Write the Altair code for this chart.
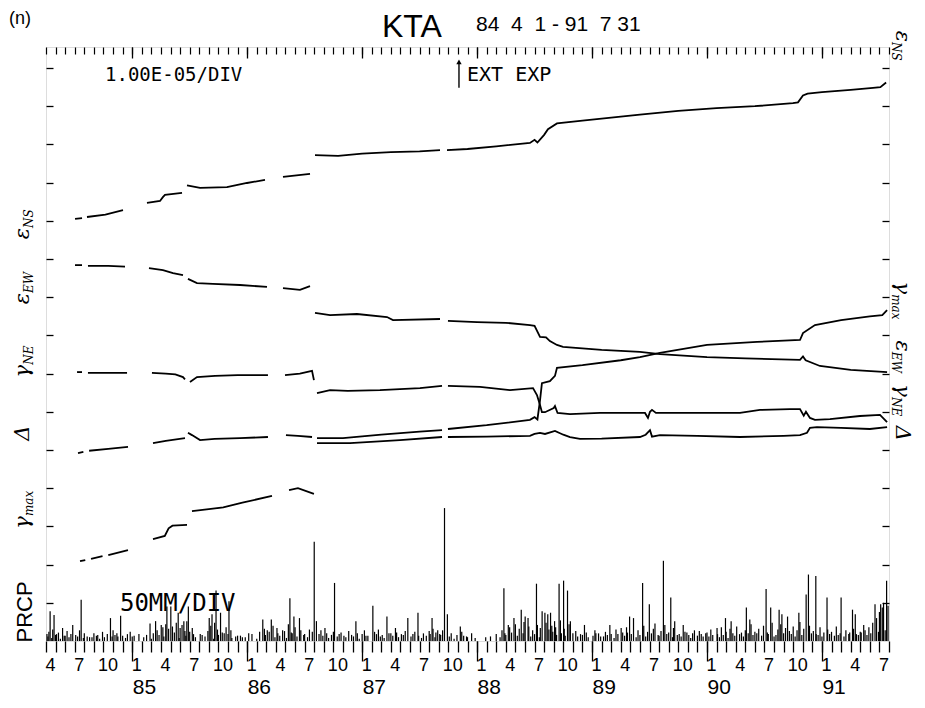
import altair as alt
import pandas as pd

FONT = "Liberation Sans"
ANN_FONT = "DejaVu Sans Mono"

# ---------------- axes (x: months since 1984-04-01, y: divisions) ----------------
MONTH_TICKS = list(range(0, 89))
YEAR_TICKS = [9, 21, 33, 45, 57, 69, 81]
DIV_TICKS = list(range(1, 16))

# ---------------- strain traces (month, divisions; 1 div = 1.00E-05) ----------------
ENS = [
    [(3.03, 11.05), (3.76, 11.07)],
    [(4.28, 11.10), (6.2, 11.16), (8.04, 11.28)],
    [(10.54, 11.47), (11.9, 11.52), (12.2, 11.62), (12.42, 11.68), (14.2, 11.73)],
    [(14.72, 11.93), (16.08, 11.86), (18.89, 11.88), (20.98, 11.99), (22.86, 12.07)],
    [(24.74, 12.15), (27.56, 12.23)],
    [(28.08, 12.72), (30.5, 12.70), (33.0, 12.76), (36.0, 12.80), (39.0, 12.82), (41.13, 12.85)],
    [(41.86, 12.85), (44.0, 12.88), (47.0, 12.95), (50.52, 13.04), (51.0, 13.12), (51.3, 13.05),
     (52.0, 13.25), (52.4, 13.40), (53.34, 13.55), (56.0, 13.62), (59.0, 13.70), (62.0, 13.78),
     (66.0, 13.88), (70.0, 13.95), (74.0, 14.00), (77.97, 14.08), (78.5, 14.10), (79.02, 14.28),
     (79.5, 14.33), (81.0, 14.37), (84.0, 14.43), (86.33, 14.48), (87.1, 14.50), (87.7, 14.62)],
]
EEW = [
    [(3.03, 9.84), (3.76, 9.84)],
    [(4.38, 9.82), (6.5, 9.82), (8.25, 9.80)],
    [(10.75, 9.76), (12.21, 9.71), (13.26, 9.63), (14.3, 9.58)],
    [(14.82, 9.48), (15.76, 9.37), (17.43, 9.35), (20.25, 9.32), (23.07, 9.27)],
    [(24.74, 9.24), (26.51, 9.19), (27.56, 9.29)],
    [(28.08, 8.59), (29.65, 8.53), (32.46, 8.56), (35.6, 8.48), (36.22, 8.40), (41.13, 8.43)],
    [(41.96, 8.38), (45.0, 8.35), (48.0, 8.33), (50.52, 8.27), (51.0, 8.25), (51.57, 7.96),
     (52.2, 7.95), (52.6, 7.85), (53.34, 7.75), (53.97, 7.70), (58.0, 7.62), (62.0, 7.57),
     (64.09, 7.51), (69.0, 7.43), (73.0, 7.40), (78.71, 7.36), (79.02, 7.45), (79.3, 7.35),
     (80.79, 7.20), (84.0, 7.10), (87.8, 7.04)],
]
GNE = [
    [(3.24, 7.04), (3.76, 7.04)],
    [(4.38, 7.02), (6.5, 7.02), (8.46, 7.02)],
    [(11.06, 7.02), (12.5, 7.00), (13.5, 6.98), (14.3, 6.91), (14.51, 6.85)],
    [(15.03, 6.78), (15.76, 6.91), (17.64, 6.94), (20.0, 6.96), (23.17, 6.96)],
    [(24.95, 6.96), (26.5, 7.00), (27.77, 7.07), (27.97, 6.83)],
    [(28.29, 6.49), (29.65, 6.57), (31.5, 6.55), (34.86, 6.57), (39.04, 6.62), (41.34, 6.68)],
    [(41.96, 6.68), (45.3, 6.65), (48.43, 6.57), (50.84, 6.62), (51.25, 6.44), (51.57, 6.18),
     (51.77, 5.99), (52.09, 5.99), (53.0, 6.10), (53.13, 6.15), (53.4, 5.97), (54.7, 5.94),
     (57.83, 5.97), (62.53, 5.97), (62.84, 5.84), (63.05, 6.00), (63.26, 6.05), (63.67, 5.97),
     (68.27, 5.97), (72.44, 5.97), (74.53, 6.05), (77.66, 6.07), (78.71, 6.07), (79.1, 5.90),
     (79.33, 6.00), (79.75, 5.84), (80.27, 5.79), (81.84, 5.81), (84.97, 5.89), (87.06, 5.92),
     (87.8, 5.73)],
]
DELTA = [
    [(3.34, 4.92), (3.9, 4.95)],
    [(4.5, 4.98), (6.5, 5.03), (8.56, 5.08)],
    [(11.17, 5.18), (12.5, 5.24), (14.51, 5.31)],
    [(14.82, 5.45), (15.24, 5.39), (16.08, 5.26), (17.6, 5.29), (20.25, 5.31), (23.17, 5.34)],
    [(25.05, 5.39), (26.3, 5.37), (27.77, 5.34)],
    [(28.29, 5.18), (31.73, 5.18), (36.95, 5.26), (41.34, 5.34)],
    [(41.96, 5.34), (46.0, 5.35), (50.52, 5.37), (51.0, 5.42), (51.57, 5.45), (52.09, 5.42),
     (53.13, 5.50), (54.0, 5.40), (54.7, 5.34), (55.74, 5.29), (58.0, 5.30), (62.0, 5.34),
     (62.6, 5.40), (63.05, 5.52), (63.26, 5.35), (64.09, 5.39), (68.0, 5.37), (72.44, 5.34),
     (77.0, 5.37), (78.71, 5.39), (79.44, 5.45), (79.75, 5.58), (80.48, 5.60), (83.0, 5.58),
     (86.0, 5.55), (87.8, 5.60)],
]
GMAX = [
    [(3.55, 2.09), (4.1, 2.12)],
    [(4.7, 2.15), (5.9, 2.22)],
    [(6.5, 2.25), (8.56, 2.38)],
    [(11.17, 2.67), (12.4, 2.75), (12.8, 2.95), (13.2, 3.02), (14.72, 3.04)],
    [(15.24, 3.40), (17.0, 3.45), (18.5, 3.50), (20.5, 3.62), (23.59, 3.80)],
    [(25.37, 3.95), (26.3, 4.00), (27.97, 3.85)],
    [(28.29, 5.31), (31.0, 5.31), (35.0, 5.40), (39.0, 5.48), (41.34, 5.52)],
    [(41.96, 5.55), (46.0, 5.65), (50.52, 5.79), (51.0, 5.86), (51.3, 5.80), (51.57, 6.30),
     (51.77, 6.75), (52.6, 6.80), (53.13, 6.94), (53.34, 7.15), (56.0, 7.22), (60.0, 7.35),
     (62.0, 7.43), (64.09, 7.54), (69.0, 7.75), (74.22, 7.83), (78.71, 7.88), (79.02, 8.06),
     (80.27, 8.27), (83.0, 8.40), (86.0, 8.50), (87.3, 8.53), (87.8, 8.66)],
]

# ---------------- precipitation (month, mm; 50 mm per division) ----------------
PRCP_BIG = [
    (0.43, 39), (0.84, 34), (1.73, 17), (2.79, 21), (3.67, 54), (4.55, 5), (5.26, 7), (6.73, 30),
    (7.79, 33), (8.79, 12), (10.86, 23), (11.44, 26), (12.03, 21), (12.62, 45), (13.03, 45),
    (13.8, 37), (14.39, 26), (14.86, 45), (15.27, 17), (17.04, 30), (17.33, 35), (17.75, 66),
    (18.22, 37), (19.1, 52), (21.16, 10), (22.63, 28), (23.52, 28), (24.11, 17), (24.7, 14),
    (25.46, 56), (25.88, 32), (26.46, 30), (28.0, 130), (28.23, 26), (29.12, 17), (30.12, 76),
    (32.35, 26), (33.24, 14), (34.12, 46), (35.59, 32), (36.48, 17), (37.77, 30), (38.83, 37),
    (40.3, 30), (40.89, 14), (41.6, 174), (41.9, 35), (43.25, 19), (44.43, 10), (45.9, 5),
    (47.8, 69), (48.26, 21), (48.85, 30), (49.61, 41), (50.02, 32), (50.32, 30), (51.2, 75),
    (51.79, 39), (52.08, 37), (52.38, 35), (52.67, 37), (53.09, 26), (53.56, 75), (54.03, 79),
    (54.44, 66), (54.74, 26), (56.21, 21), (57.68, 10), (58.86, 21), (60.04, 17), (60.92, 32),
    (61.33, 30), (62.28, 76), (62.98, 48), (63.57, 23), (64.45, 105), (65.22, 57), (65.63, 26),
    (66.52, 21), (67.69, 14), (68.87, 10), (70.05, 17), (70.93, 30), (71.52, 26), (73.11, 44),
    (73.47, 28), (75.17, 68), (75.65, 44), (76.53, 41), (76.82, 35), (77.41, 32), (78.59, 37),
    (79.35, 61), (79.59, 87), (80.36, 85), (81.53, 57), (83.0, 57), (84.19, 41), (84.48, 35),
    (85.36, 21), (86.54, 48), (87.13, 48), (87.43, 50), (87.75, 79),
]
PRCP_SMALL = [
    (0.1, 9), (0.2, 6), (0.3, 12), (0.6, 4), (0.7, 15), (1.0, 8), (1.1, 9), (1.3, 11), (1.5, 3),
    (1.9, 7), (2.0, 7), (2.2, 13), (2.4, 5), (2.6, 9), (3.1, 8), (3.3, 6), (3.5, 14), (3.9, 4),
    (4.0, 10), (4.3, 6), (4.8, 5), (5.0, 10), (5.4, 8), (5.6, 3), (5.9, 12), (6.1, 5), (6.4, 9),
    (6.9, 6), (7.0, 14), (7.2, 8), (7.4, 10), (7.5, 6), (8.0, 7), (8.3, 4), (8.5, 9), (9.0, 6),
    (9.2, 7), (9.7, 9), (10.2, 5), (10.5, 8), (11.0, 3), (11.2, 10), (11.6, 14), (11.8, 8),
    (12.2, 18), (12.3, 6), (12.5, 22), (12.8, 16), (13.2, 19), (13.4, 11), (13.6, 24), (13.9, 4),
    (14.0, 17), (14.2, 21), (14.5, 13), (14.6, 7), (14.7, 26), (15.0, 12), (15.4, 9), (15.6, 5),
    (16.1, 9), (16.3, 8), (16.6, 6), (16.9, 13), (17.2, 20), (17.5, 3), (17.6, 24), (17.9, 15),
    (18.0, 8), (18.4, 11), (18.6, 10), (18.8, 18), (19.0, 9), (19.3, 14), (19.4, 4), (19.8, 6),
    (20.0, 7), (20.3, 7), (20.5, 5), (20.8, 5), (21.5, 9), (22.0, 3), (22.3, 12), (22.8, 16),
    (22.9, 8), (23.1, 14), (23.3, 12), (23.7, 20), (23.9, 5), (24.2, 10), (24.4, 7), (24.9, 13),
    (25.1, 4), (25.3, 22), (25.6, 11), (25.7, 10), (26.0, 18), (26.2, 6), (26.6, 14), (26.9, 8),
    (27.0, 9), (27.3, 5), (27.5, 15), (27.8, 12), (28.5, 9), (28.7, 14), (28.9, 7), (29.3, 10),
    (29.5, 4), (29.8, 8), (30.0, 12), (30.4, 6), (30.6, 9), (30.8, 11), (31.1, 7), (31.3, 5),
    (31.6, 13), (31.9, 8), (32.1, 6), (32.5, 10), (32.7, 3), (33.0, 9), (33.4, 7), (33.6, 7),
    (34.3, 12), (34.5, 9), (34.7, 15), (34.9, 6), (35.1, 8), (35.3, 4), (35.8, 10), (36.0, 10),
    (36.2, 7), (36.6, 11), (36.8, 5), (37.1, 9), (37.3, 8), (37.5, 13), (38.1, 6), (38.3, 9),
    (38.5, 12), (38.9, 7), (39.2, 4), (39.4, 10), (39.7, 7), (40.0, 13), (40.1, 9), (40.4, 16),
    (40.6, 5), (40.7, 11), (41.1, 9), (41.2, 8), (41.4, 14), (42.1, 6), (42.3, 10), (42.6, 3),
    (42.9, 8), (43.4, 12), (43.6, 7), (43.9, 6), (44.0, 5), (44.8, 4), (46.4, 6), (47.0, 9),
    (47.4, 5), (47.6, 14), (47.9, 10), (48.0, 8), (48.4, 18), (48.6, 11), (49.0, 22), (49.2, 7),
    (49.4, 16), (49.8, 10), (49.9, 25), (50.4, 19), (50.6, 6), (50.8, 14), (51.0, 9), (51.3, 21),
    (51.5, 5), (51.6, 17), (52.2, 24), (52.5, 15), (52.8, 20), (52.9, 12), (53.2, 18), (53.3, 8),
    (53.7, 27), (53.8, 10), (54.1, 16), (54.2, 7), (54.6, 22), (55.0, 10), (55.3, 13), (55.5, 6),
    (55.8, 9), (56.0, 8), (56.4, 11), (56.6, 5), (57.1, 7), (57.3, 14), (57.4, 10), (57.9, 6),
    (58.2, 6), (58.4, 12), (58.6, 8), (59.0, 9), (59.3, 4), (59.5, 15), (59.7, 9), (60.2, 11),
    (60.4, 7), (60.6, 18), (60.7, 11), (61.1, 9), (61.6, 5), (61.8, 14), (62.0, 8), (62.4, 20),
    (62.6, 6), (62.8, 12), (63.2, 10), (63.4, 16), (63.9, 8), (64.0, 7), (64.2, 13), (64.6, 21),
    (64.8, 9), (65.0, 11), (65.4, 5), (65.5, 17), (65.9, 8), (66.1, 9), (66.3, 6), (66.7, 12),
    (66.9, 11), (67.1, 8), (67.3, 4), (67.5, 10), (68.0, 7), (68.2, 13), (68.4, 9), (68.6, 6),
    (69.0, 11), (69.2, 6), (69.4, 15), (69.6, 8), (70.1, 9), (70.3, 5), (70.5, 18), (70.7, 8),
    (71.0, 12), (71.2, 4), (71.4, 16), (71.7, 10), (71.9, 7), (72.1, 19), (72.4, 9), (72.6, 11),
    (72.8, 6), (73.0, 14), (73.3, 10), (73.6, 22), (73.8, 8), (74.0, 12), (74.2, 10), (74.4, 16),
    (74.7, 7), (74.9, 20), (75.3, 11), (75.4, 9), (75.8, 24), (76.0, 6), (76.2, 8), (76.4, 15),
    (76.7, 22), (77.0, 10), (77.2, 17), (77.6, 13), (77.8, 9), (78.0, 19), (78.2, 6), (78.4, 14),
    (78.7, 25), (78.9, 8), (79.1, 16), (79.7, 20), (79.9, 10), (80.1, 13), (80.4, 9), (80.6, 8),
    (80.8, 18), (81.0, 6), (81.2, 11), (81.6, 15), (81.8, 9), (82.0, 12), (82.3, 7), (82.5, 19),
    (82.7, 8), (82.9, 10), (83.3, 6), (83.5, 14), (83.8, 9), (83.9, 11), (84.3, 16), (84.6, 9),
    (84.8, 8), (85.0, 12), (85.1, 11), (85.5, 14), (85.7, 8), (85.9, 18), (86.1, 10), (86.3, 24),
    (86.7, 30), (86.9, 12), (87.0, 38), (87.3, 44), (87.6, 14), (87.9, 46),
]

# ---------------- labels: (greek, subscript, value-axis anchor) ----------------
LEFT_LABELS = [("ε", "NS", 10.81), ("ε", "EW", 9.11), ("γ", "NE", 7.23),
               ("Δ", "", 5.64), ("γ", "max", 3.27)]
RIGHT_LABELS = [("ε", "NS", 15.68), ("γ", "max", 9.08), ("ε", "EW", 7.57),
                ("γ", "NE", 6.39), ("Δ", "", 5.24)]

# ---------------- build tables ----------------
rows = []
for name, segs in [("ENS", ENS), ("EEW", EEW), ("GNE", GNE), ("DELTA", DELTA), ("GMAX", GMAX)]:
    for i, seg in enumerate(segs):
        for m, v in seg:
            rows.append({"seg": f"{name}{i}", "m": m, "v": v})
lines_df = pd.DataFrame(rows)

prcp_pairs = PRCP_BIG + PRCP_SMALL
prcp_df = pd.DataFrame({"m": [p[0] for p in prcp_pairs], "mm": [p[1] for p in prcp_pairs]})
prcp_df["zero"] = 0.0

XS = alt.Scale(domain=[0, 88], nice=False, zero=False)
YS = alt.Scale(domain=[0, 15.55], nice=False, zero=False)

month_axis = alt.Axis(orient="bottom", values=MONTH_TICKS, tickSize=11, tickWidth=1.3,
                      tickColor="black", domain=False, grid=False, title=None,
                      labelExpr="datum.value % 3 == 0 ? '' + ((datum.value + 3) % 12 + 1) : ''",
                      labelFontSize=18, labelFont=FONT, labelColor="black", labelPadding=4,
                      labelOverlap=False, labelFlush=False, labelOffset=4)
year_axis = alt.Axis(orient="bottom", values=YEAR_TICKS, tickSize=20, tickWidth=1.3,
                     tickColor="black", domain=False, grid=False, title=None,
                     labelExpr="'' + (85 + (datum.value - 9) / 12)", labelFontSize=21,
                     labelFont=FONT, labelColor="black", labelAlign="left", labelPadding=15,
                     labelOverlap=False, labelFlush=False)
top_minor = alt.Axis(orient="top", values=MONTH_TICKS, offset=-7, tickSize=7, tickWidth=1.2,
                     tickColor="black", labels=False, domain=False, grid=False, title=None)
top_major = alt.Axis(orient="top", values=YEAR_TICKS, offset=-11, tickSize=11, tickWidth=1.3,
                     tickColor="black", labels=False, domain=False, grid=False, title=None)
left_axis = alt.Axis(orient="left", values=DIV_TICKS, offset=-7, tickSize=7, tickWidth=1.3,
                     tickColor="black", labels=False, domain=False, grid=False, title=None)
right_axis = alt.Axis(orient="right", values=DIV_TICKS, offset=-7, tickSize=7, tickWidth=1.3,
                      tickColor="black", labels=False, domain=False, grid=False, title=None)

prcp = alt.Chart(prcp_df).transform_calculate(d="datum.mm / 50").mark_rule(
    color="black", strokeWidth=1.2).encode(
    x=alt.X("m:Q", scale=XS, axis=month_axis),
    y=alt.Y("d:Q", scale=YS, axis=left_axis),
    y2=alt.Y2("zero:Q"),
)

ticks_df = pd.DataFrame({"m": YEAR_TICKS, "v": [0.5] * len(YEAR_TICKS)})
year_layer = alt.Chart(ticks_df).mark_point(opacity=0).encode(
    x=alt.X("m:Q", scale=XS, axis=year_axis),
    y=alt.Y("v:Q", scale=YS, axis=right_axis),
)
top1 = alt.Chart(ticks_df).mark_point(opacity=0).encode(
    x=alt.X("m:Q", scale=XS, axis=top_minor),
    y=alt.Y("v:Q", scale=YS, axis=None),
)
top2 = alt.Chart(ticks_df).mark_point(opacity=0).encode(
    x=alt.X("m:Q", scale=XS, axis=top_major),
    y=alt.Y("v:Q", scale=YS, axis=None),
)

lines = alt.Chart(lines_df).mark_line(color="black", strokeWidth=1.8).encode(
    x=alt.X("m:Q", scale=XS, axis=None),
    y=alt.Y("v:Q", scale=YS, axis=None),
    detail="seg:N",
)

ann_df = pd.DataFrame({"txt": ["1.00E-05/DIV", "EXT EXP", "50MM/DIV"],
                       "m": [6.16, 43.95, 7.72], "v": [14.82, 14.82, 0.98],
                       "fs": [19, 20, 24]})
ann = alt.Chart(ann_df).mark_text(align="left", baseline="middle", font=ANN_FONT,
                                  color="black").encode(
    x=alt.X("m:Q", scale=XS, axis=None), y=alt.Y("v:Q", scale=YS, axis=None), text="txt:N",
    size=alt.Size("fs:Q", scale=None, legend=None))

arrow_df = pd.DataFrame({"m": [43.11], "v1": [14.48], "v2": [15.16]})
arrow = alt.Chart(arrow_df).mark_rule(color="black", strokeWidth=1.4).encode(
    x=alt.X("m:Q", scale=XS, axis=None), y=alt.Y("v1:Q", scale=YS, axis=None), y2="v2:Q")
arrow_head = alt.Chart(arrow_df).mark_point(shape="triangle-up", filled=True, color="black",
                                            size=28, opacity=1).encode(
    x=alt.X("m:Q", scale=XS, axis=None), y=alt.Y("v2:Q", scale=YS, axis=None))

left_df = pd.DataFrame({"main": [l[0] for l in LEFT_LABELS], "sub": [l[1] for l in LEFT_LABELS],
                        "v": [l[2] for l in LEFT_LABELS]})
left_main = alt.Chart(left_df).mark_text(angle=270, align="right", baseline="alphabetic",
                                         fontSize=21, font="DejaVu Serif", fontStyle="italic",
                                         color="black").encode(
    x=alt.value(-17), y=alt.Y("v:Q", scale=YS, axis=None), text="main:N")
left_sub = alt.Chart(left_df).mark_text(angle=270, align="left", baseline="alphabetic",
                                        fontSize=12, font="DejaVu Serif", fontStyle="italic",
                                        color="black", dy=4).encode(
    x=alt.value(-17), y=alt.Y("v:Q", scale=YS, axis=None), text="sub:N")
prcp_lbl = alt.Chart(pd.DataFrame({"t": ["PRCP"], "v": [0.76]})).mark_text(
    angle=270, align="center", baseline="alphabetic", fontSize=22, font=FONT,
    color="black").encode(x=alt.value(-14), y=alt.Y("v:Q", scale=YS, axis=None), text="t:N")

right_df = pd.DataFrame({"main": [l[0] for l in RIGHT_LABELS], "sub": [l[1] for l in RIGHT_LABELS],
                         "v": [l[2] for l in RIGHT_LABELS]})
right_main = alt.Chart(right_df).mark_text(angle=90, align="right", baseline="alphabetic",
                                           fontSize=21, font="DejaVu Serif", fontStyle="italic",
                                           color="black").encode(
    x=alt.value(850), y=alt.Y("v:Q", scale=YS, axis=None), text="main:N")
right_sub = alt.Chart(right_df).mark_text(angle=90, align="left", baseline="alphabetic",
                                          fontSize=12, font="DejaVu Serif", fontStyle="italic",
                                          color="black", dy=4).encode(
    x=alt.value(850), y=alt.Y("v:Q", scale=YS, axis=None), text="sub:N")

one = pd.DataFrame({"a": [0]})
t_n = alt.Chart(one).mark_text(text="(n)", align="left", baseline="top", fontSize=18,
                               font=FONT, color="black").encode(x=alt.value(-37), y=alt.value(-37))
t_kta = alt.Chart(one).mark_text(text="KTA", align="left", baseline="top", fontSize=32,
                                 font=FONT, color="black").encode(x=alt.value(336), y=alt.value(-35))
t_date = alt.Chart(one).mark_text(text="84\u00a0\u00a04\u00a0\u00a01\u00a0-\u00a091\u00a0\u00a07\u00a031",
                                  align="left", baseline="top", fontSize=21, font=FONT,
                                  color="black").encode(x=alt.value(430), y=alt.value(-33))

chart = alt.layer(
    prcp, year_layer, top1, top2, lines, ann, arrow, arrow_head,
    left_main, left_sub, prcp_lbl, right_main, right_sub, t_n, t_kta, t_date,
).resolve_axis(x="independent", y="independent").properties(
    width=843, height=594,
    autosize=alt.AutoSizeParams(type="none"),
    padding={"left": 38, "top": 39, "right": 28, "bottom": 59},
).configure_view(stroke="black", strokeWidth=1.8).configure(background="white")

chart.save("out.html", embed_options={"renderer": "svg", "actions": False})
